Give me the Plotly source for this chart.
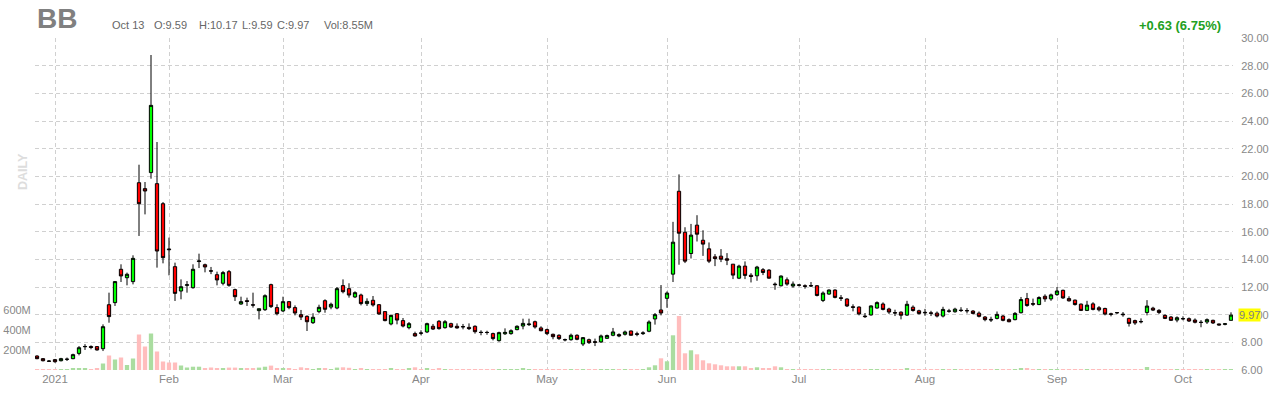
import plotly.graph_objects as go
import pandas as pd

# ---------------- data ----------------
holidays = ["2021-01-01", "2021-01-18", "2021-02-15", "2021-04-02",
            "2021-05-31", "2021-07-05", "2021-09-06"]
dates = [d.strftime("%Y-%m-%d") for d in pd.bdate_range("2020-12-29", "2021-10-13")
         if d.strftime("%Y-%m-%d") not in holidays]

month_ticks = ["2021-01-04", "2021-02-01", "2021-03-01", "2021-04-01", "2021-05-03",
               "2021-06-01", "2021-07-01", "2021-08-02", "2021-09-01", "2021-10-01"]
month_labels = ["2021", "Feb", "Mar", "Apr", "May", "Jun", "Jul", "Aug", "Sep", "Oct"]

price_ticks = [6, 8, 10, 12, 14, 16, 18, 20, 22, 24, 26, 28, 30]
volume_ticks = [200, 400, 600]
volume_tick_labels = ["200M", "400M", "600M"]

opens = [7.01, 6.82, 6.65, 6.75, 6.67, 6.77, 6.82, 7.20, 7.68, 7.70,
         7.69, 7.54, 10.72, 10.87, 13.28, 12.67, 12.39, 19.54, 19.11, 20.27,
         19.47, 18.02, 14.75, 13.47, 11.71, 12.12, 11.95, 13.84, 13.61, 13.17,
         12.89, 12.27, 13.11, 11.81, 10.77, 11.01, 10.72, 10.29, 10.36, 12.17,
         10.51, 10.27, 10.94, 10.51, 10.00, 9.88, 9.42, 10.22, 11.01, 10.55,
         10.48, 12.10, 11.88, 11.28, 11.42, 10.80, 11.04, 10.72, 10.22, 9.33,
         10.07, 9.57, 9.06, 8.63, 8.68, 8.75, 9.16, 9.52, 9.06, 9.35,
         9.16, 9.14, 9.08, 9.16, 8.73, 8.72, 8.63, 8.12, 8.62, 8.63,
         8.92, 9.18, 9.28, 9.49, 9.04, 8.92, 8.58, 8.51, 8.20, 8.19,
         8.51, 7.88, 8.19, 8.05, 8.03, 8.29, 8.51, 8.56, 8.58, 8.82,
         8.62, 8.63, 8.80, 9.69, 10.34, 11.18, 12.93, 18.92, 15.96, 14.42,
         16.47, 15.38, 14.76, 14.18, 14.23, 14.04, 13.65, 12.64, 13.51, 12.85,
         12.81, 13.25, 13.22, 12.21, 12.09, 12.52, 12.07, 12.15, 12.09, 12.10,
         12.09, 11.03, 11.49, 11.78, 11.22, 11.13, 10.57, 10.55, 9.90, 9.98,
         10.48, 10.77, 10.41, 10.15, 10.18, 9.97, 10.54, 10.28, 10.17, 10.13,
         10.11, 9.90, 10.27, 10.21, 10.33, 10.30, 10.26, 10.11, 9.83, 9.66,
         9.73, 9.90, 9.64, 9.64, 10.14, 11.16, 10.80, 10.73, 11.33, 11.14,
         11.45, 11.76, 11.16, 11.05, 10.76, 10.31, 10.78, 10.50, 10.45, 10.06,
         10.15, 10.04, 9.73, 9.57, 9.51, 10.16, 10.47, 10.31, 9.95, 9.83,
         9.61, 9.72, 9.71, 9.61, 9.45, 9.47, 9.59, 9.33, 9.30, 9.59]

highs = [7.06, 6.86, 6.72, 6.80, 6.88, 6.90, 7.18, 7.73, 7.87, 7.78,
         7.73, 9.30, 11.59, 12.43, 13.64, 13.04, 14.29, 20.84, 19.59, 28.77,
         22.48, 18.14, 15.57, 13.76, 12.55, 12.43, 13.64, 14.41, 13.69, 13.45,
         13.11, 13.16, 13.23, 11.88, 11.30, 11.23, 11.59, 10.43, 11.47, 12.24,
         10.75, 11.30, 10.99, 10.67, 10.34, 9.95, 10.10, 10.72, 11.11, 10.87,
         12.00, 12.55, 12.27, 11.69, 11.52, 11.18, 11.35, 10.77, 10.22, 10.00,
         10.12, 9.76, 9.47, 8.77, 8.87, 9.42, 9.33, 9.61, 9.61, 9.42,
         9.37, 9.33, 9.37, 9.23, 8.87, 8.84, 8.70, 8.77, 9.01, 8.94,
         9.23, 9.71, 9.71, 9.57, 9.16, 8.99, 8.63, 8.58, 8.27, 8.63,
         8.58, 8.38, 8.27, 8.27, 8.56, 8.56, 9.04, 8.65, 8.85, 8.85,
         8.77, 8.80, 9.59, 10.12, 12.14, 11.68, 16.71, 20.14, 16.32, 16.56,
         17.19, 16.10, 15.22, 14.38, 14.74, 14.45, 13.65, 13.61, 13.85, 13.00,
         13.53, 13.37, 13.29, 12.33, 12.84, 12.69, 12.40, 12.21, 12.19, 12.36,
         12.14, 11.68, 11.83, 11.83, 11.42, 11.18, 10.75, 10.60, 10.12, 10.67,
         10.96, 10.89, 10.50, 10.36, 10.24, 11.00, 10.67, 10.36, 10.42, 10.28,
         10.23, 10.57, 10.42, 10.50, 10.54, 10.47, 10.33, 10.23, 9.90, 9.85,
         10.23, 9.97, 9.73, 10.19, 11.28, 11.57, 11.16, 11.33, 11.47, 11.52,
         12.00, 11.81, 11.33, 11.09, 10.81, 11.00, 10.90, 10.62, 10.50, 10.14,
         10.19, 10.19, 9.78, 9.64, 9.73, 11.05, 10.57, 10.40, 10.02, 9.90,
         9.88, 9.88, 9.80, 9.73, 9.61, 9.73, 9.64, 9.35, 9.40, 10.17]

lows = [6.78, 6.62, 6.58, 6.52, 6.62, 6.65, 6.78, 7.06, 7.45, 7.50,
        7.40, 7.37, 9.42, 10.63, 12.36, 12.12, 12.19, 15.69, 17.25, 19.83,
        13.40, 13.71, 12.84, 10.99, 11.11, 11.59, 11.88, 13.37, 13.06, 12.93,
        12.12, 12.12, 12.02, 10.99, 10.72, 10.63, 10.51, 9.66, 10.27, 10.48,
        9.95, 10.19, 10.39, 9.95, 9.61, 8.82, 9.33, 10.10, 10.14, 10.39,
        10.39, 11.54, 11.23, 11.20, 10.67, 10.63, 10.58, 10.00, 9.52, 9.23,
        9.30, 9.08, 8.94, 8.41, 8.51, 8.67, 8.89, 8.92, 8.99, 9.04,
        8.99, 8.94, 8.89, 8.63, 8.51, 8.55, 8.14, 8.05, 8.53, 8.55,
        8.87, 8.94, 9.18, 8.99, 8.80, 8.53, 8.22, 8.17, 8.07, 8.12,
        8.15, 7.73, 7.88, 7.73, 7.96, 8.25, 8.44, 8.37, 8.49, 8.49,
        8.44, 8.53, 8.73, 9.28, 9.95, 10.50, 12.36, 13.61, 13.73, 14.06,
        15.29, 14.25, 13.73, 13.51, 13.80, 13.58, 12.57, 12.57, 12.57, 12.33,
        12.45, 12.86, 12.60, 11.80, 12.04, 12.09, 11.95, 12.04, 11.88, 12.00,
        11.32, 10.91, 11.44, 11.18, 10.99, 10.55, 10.24, 9.95, 9.76, 9.93,
        10.43, 10.31, 10.05, 9.90, 9.66, 9.91, 10.22, 10.00, 9.92, 9.90,
        9.80, 9.80, 10.14, 10.14, 10.19, 10.09, 10.02, 9.80, 9.52, 9.47,
        9.66, 9.52, 9.45, 9.59, 10.09, 10.57, 10.62, 10.69, 10.93, 11.00,
        11.36, 11.14, 10.95, 10.66, 10.26, 10.26, 10.31, 10.23, 9.95, 9.88,
        10.04, 9.85, 9.14, 9.26, 9.37, 9.95, 10.26, 10.04, 9.68, 9.54,
        9.45, 9.59, 9.47, 9.37, 9.09, 9.33, 9.33, 9.21, 9.23, 9.59]

closes = [6.82, 6.67, 6.63, 6.60, 6.82, 6.78, 7.11, 7.61, 7.70, 7.63,
          7.45, 9.13, 9.86, 12.39, 12.80, 12.92, 14.07, 18.02, 18.94, 25.13,
          14.60, 14.12, 14.70, 11.54, 12.02, 12.16, 13.28, 13.88, 13.45, 13.15,
          12.51, 13.04, 12.12, 11.30, 10.94, 10.96, 10.69, 10.43, 11.37, 10.58,
          10.07, 10.94, 10.51, 10.12, 9.83, 9.49, 9.81, 10.53, 10.39, 10.75,
          11.88, 11.66, 11.42, 11.59, 10.80, 10.96, 10.70, 10.05, 9.57, 9.95,
          9.61, 9.18, 9.35, 8.46, 8.66, 9.35, 8.96, 8.99, 9.49, 9.11,
          9.04, 9.12, 8.99, 8.77, 8.71, 8.71, 8.27, 8.70, 8.72, 8.84,
          9.16, 9.37, 9.32, 9.11, 8.84, 8.63, 8.41, 8.27, 8.18, 8.51,
          8.22, 8.34, 7.98, 8.00, 8.46, 8.49, 8.75, 8.46, 8.75, 8.51,
          8.58, 8.68, 9.47, 10.00, 10.12, 11.56, 15.24, 15.89, 13.87, 15.75,
          15.82, 15.10, 13.87, 14.06, 14.01, 13.94, 12.86, 13.51, 12.84, 12.76,
          13.44, 13.05, 12.64, 12.17, 12.79, 12.21, 12.21, 12.13, 12.05, 12.08,
          11.39, 11.56, 11.78, 11.25, 11.18, 10.63, 10.53, 10.05, 9.86, 10.63,
          10.87, 10.38, 10.19, 10.12, 9.96, 10.75, 10.30, 10.09, 10.14, 10.10,
          9.90, 10.38, 10.25, 10.40, 10.30, 10.28, 10.09, 9.88, 9.64, 9.62,
          10.02, 9.59, 9.49, 10.09, 11.09, 10.66, 10.76, 11.24, 11.14, 11.43,
          11.71, 11.21, 11.00, 10.73, 10.31, 10.69, 10.38, 10.35, 10.04, 10.03,
          10.14, 10.00, 9.37, 9.40, 9.49, 10.62, 10.33, 10.16, 9.73, 9.59,
          9.78, 9.70, 9.54, 9.45, 9.44, 9.64, 9.40, 9.26, 9.34, 9.97]

volume_m = [10, 9, 8, 10, 9, 8, 12, 18, 20, 10,
            12, 65, 145, 105, 125, 50, 115, 355, 235, 365,
            185, 85, 75, 75, 45, 25, 33, 33, 18, 25,
            14, 14, 24, 24, 14, 14, 17, 24, 33, 44,
            17, 20, 12, 10, 27, 20, 10, 20, 12, 10,
            24, 27, 22, 10, 12, 10, 10, 10, 10, 12,
            8, 10, 14, 27, 10, 16, 8, 16, 10, 8,
            8, 8, 9, 8, 10, 8, 8, 9, 8, 8,
            10, 16, 10, 8, 8, 8, 7, 7, 8, 7,
            8, 7, 8, 7, 7, 8, 8, 9, 8, 8,
            8, 8, 27, 47, 117, 87, 347, 540, 167, 197,
            157, 97, 67, 57, 47, 37, 37, 37, 37, 17,
            27, 17, 20, 37, 27, 10, 8, 8, 7, 8,
            9, 8, 7, 8, 7, 8, 8, 9, 8, 8,
            7, 7, 8, 7, 8, 17, 8, 7, 8, 7,
            7, 8, 7, 7, 7, 7, 7, 8, 8, 7,
            8, 8, 7, 9, 13, 20, 9, 8, 8, 8,
            9, 9, 8, 8, 8, 8, 8, 7, 7, 7,
            6, 7, 9, 8, 8, 30, 10, 8, 8, 7,
            7, 7, 7, 7, 8, 7, 7, 7, 6, 8.55]

assert len(dates) == 200, len(dates)
for arr in (opens, highs, lows, closes, volume_m):
    assert len(arr) == 200, len(arr)

# ---------------- styling ----------------
FONT = "Arial, Liberation Sans, sans-serif"
GRID = "#d0d0d0"
LABEL = "#888888"
L_MARGIN, R_MARGIN, T_MARGIN, B_MARGIN = 35, 47, 38, 30
W, H = 1280, 400
PW, PH = W - L_MARGIN - R_MARGIN, H - T_MARGIN - B_MARGIN


def px_x(px):
    return (px - L_MARGIN) / PW


def px_y(py):
    return (H - B_MARGIN - py) / PH


vol_colors = ["#aadda0" if c >= o else "#ffbdbd" for o, c in zip(opens, closes)]

fig = go.Figure()
fig.add_trace(go.Bar(
    x=dates, y=volume_m, yaxis="y", width=0.72,
    marker=dict(color=vol_colors, line=dict(width=0)),
    hoverinfo="skip", showlegend=False,
))
fig.add_trace(go.Candlestick(
    x=dates, open=opens, high=highs, low=lows, close=closes, yaxis="y2",
    increasing=dict(fillcolor="#00ff00", line=dict(color="#000000", width=1)),
    decreasing=dict(fillcolor="#ff0000", line=dict(color="#000000", width=1)),
    whiskerwidth=0, showlegend=False,
))

header_items = [("Oct 13", 110), ("O:9.59", 151.7), ("H:10.17", 196.7),
                ("L:9.59", 240), ("C:9.97", 275), ("Vol:8.55M", 321.7)]
annotations = [
    dict(text="<b>BB</b>", x=px_x(35), y=px_y(19), xref="paper", yref="paper",
         xanchor="left", yanchor="middle", showarrow=False,
         font=dict(family=FONT, size=28, color="#808080")),
    dict(text="<b>+0.63 (6.75%)</b>", x=px_x(1223), y=px_y(25.5), xref="paper", yref="paper",
         xanchor="right", yanchor="middle", showarrow=False,
         font=dict(family=FONT, size=13, color="#22a022")),
    dict(text="<b>DAILY</b>", x=px_x(23), y=px_y(172), xref="paper", yref="paper",
         xanchor="center", yanchor="middle", showarrow=False, textangle=-90,
         font=dict(family=FONT, size=12.5, color="#dddddd")),
    dict(text="9.97", x=px_x(1238), y=closes[-1], xref="paper", yref="y2",
         xanchor="left", yanchor="middle", showarrow=False, bgcolor="#ffff00",
         borderpad=0, font=dict(family=FONT, size=11, color="#808080")),
]
for txt, xpos in header_items:
    annotations.append(dict(text=txt, x=px_x(xpos), y=px_y(25.5), xref="paper", yref="paper",
                            xanchor="left", yanchor="middle", showarrow=False,
                            font=dict(family=FONT, size=11, color="#666666")))

fig.update_layout(
    width=W, height=H,
    margin=dict(l=L_MARGIN, r=R_MARGIN, t=T_MARGIN, b=B_MARGIN, pad=0, autoexpand=False),
    paper_bgcolor="white", plot_bgcolor="white",
    showlegend=False, boxgap=0.22, bargap=0.28,
    xaxis=dict(type="category", range=[-1 / 3, len(dates) - 1 + 1 / 3],
               tickvals=month_ticks, ticktext=month_labels, automargin=False,
               showgrid=True, gridcolor=GRID, griddash="4px,3px", gridwidth=1,
               rangeslider=dict(visible=False), showline=False, zeroline=False,
               ticks="", tickfont=dict(family=FONT, size=11.5, color=LABEL)),
    yaxis=dict(range=[0, PH * 10], tickvals=volume_ticks, ticktext=volume_tick_labels,
               showgrid=False, zeroline=False, showline=False, side="left",
               automargin=False, ticks="outside", ticklen=1, tickcolor="rgba(0,0,0,0)",
               tickfont=dict(family=FONT, size=11, color=LABEL)),
    yaxis2=dict(overlaying="y", side="right", range=[6, 30], automargin=False,
                tickvals=price_ticks, ticktext=[f"{v:.2f}" for v in price_ticks],
                showgrid=True, gridcolor=GRID, griddash="4px,3px", gridwidth=1,
                zeroline=False, showline=False,
                ticks="outside", ticklen=5, tickcolor="rgba(0,0,0,0)",
                tickfont=dict(family=FONT, size=11, color=LABEL)),
    annotations=annotations,
)

fig.write_html("out.html", config=dict(displayModeBar=False),
               post_script="document.body.style.margin='0';")
